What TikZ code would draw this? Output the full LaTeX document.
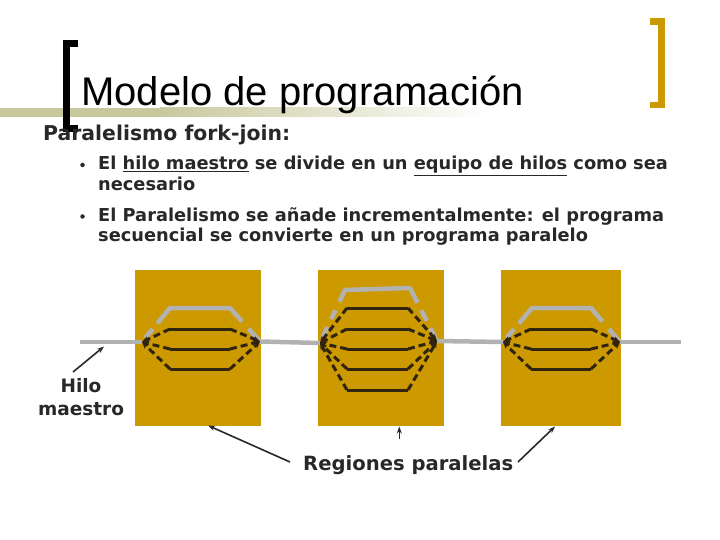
\documentclass[tikz,border=0pt]{standalone}
\usepackage{fontspec}
\setmainfont{DejaVu Sans}
\newfontfamily\titlefont{Liberation Sans}
\usetikzlibrary{calc,arrows.meta}
\definecolor{gold}{RGB}{204,153,0}
\definecolor{gthrc}{RGB}{178,178,178}
\definecolor{dk}{RGB}{40,40,40}
\definecolor{brn}{RGB}{48,36,14}
\definecolor{bandc}{RGB}{200,200,158}
\newcommand\gseg[4]{\draw[gthr] ($(#1)!#3!(#2)$) -- ($(#1)!#4!(#2)$);}
\tikzset{
  gthr/.style={draw=gthrc, line width=4.5pt},
  solthr/.style={draw=brn, line width=3pt},
  dashthr/.style={draw=brn, line width=3pt, dash pattern=on 7pt off 4pt, -{Stealth[length=7pt,width=6pt]}},
  regbox/.style={fill=gold, draw=none, anchor=north west, inner sep=0pt, minimum width=#1, minimum height=156pt},
  lbl/.style={draw=dk, line width=1.6pt, -{Stealth[length=7pt,width=5pt]}},
  boldtxt/.style={text=dk, inner sep=0pt, anchor=base west, font=\bfseries\fontsize{#1}{#1}\selectfont},
  dot/.style={fill=dk, draw=none, circle, inner sep=0pt, minimum size=4.5pt},
}
\begin{document}
\begin{tikzpicture}[x=1pt,y=-1pt]
\useasboundingbox (0,0) rectangle (720,540);
% title band
\fill[bandc] (0,108) rectangle (160,117);
\shade[left color=bandc, right color=white] (160,108) rectangle (490,117);
% brackets
\draw[line width=7pt, line join=miter] (78,44) -- (66.5,44) -- (66.5,129) -- (78,129);
\draw[gold, line width=6.5pt, line join=miter] (650,21.7) -- (661.7,21.7) -- (661.7,104.8) -- (650,104.8);
% title
\node[anchor=base west, inner sep=0pt, font=\titlefont\fontsize{40}{48}\selectfont] (title) at (81,106) {Modelo de programación};
% heading and bullets
\node[boldtxt=20.4] (head) at (43,141) {Paralelismo fork-join:};
\node[dot] (d1) at (82.5,165) {};
\node[dot] (d2) at (82.5,216.5) {};
\node[boldtxt=17.8] (b1a) at (98,170) {El \underline{hilo maestro} se divide en un \underline{equipo de hilos} como sea};
\node[boldtxt=17.8] (b1b) at (98,190.7) {necesario};
\node[boldtxt=17.8] (b2a) at (98,221.7) {El Paralelismo se añade incrementalmente: el programa};
\node[boldtxt=17.8] (b2b) at (98,241.7) {secuencial se convierte en un programa paralelo};
% regions
\node[regbox=126pt] (r1) at (135,270) {};
\node[regbox=126.5pt] (r2) at (317.5,270) {};
\node[regbox=120pt] (r3) at (500.5,270) {};
% fork / join points
\coordinate (hm) at (80,342);
\coordinate (hme) at (681,342);
\coordinate (F1) at (142,342); \coordinate (J1) at (260,341.5);
\coordinate (F2) at (320,343); \coordinate (J2) at (437,341);
\coordinate (F3) at (503,342); \coordinate (J3) at (620,342);
% master thread
\draw[gthr] (hm) -- (F1);
\draw[gthr] (J1) -- (F2);
\draw[gthr] (J2) -- (F3);
\draw[gthr] (J3) -- (hme);
% gray upper paths
\coordinate (A1) at (170,308); \coordinate (B1) at (230,308);
\coordinate (A2) at (345,290); \coordinate (B2) at (410,288);
\coordinate (A3) at (532,308); \coordinate (B3) at (591,308);
\gseg{F1}{A1}{0.12}{0.38}
\draw[gthr, line join=round] ($(F1)!0.55!(A1)$) -- (A1) -- (B1) -- ($(B1)!0.4!(J1)$);
\gseg{B1}{J1}{0.62}{0.97}
\gseg{F3}{A3}{0.12}{0.38}
\draw[gthr, line join=round] ($(F3)!0.55!(A3)$) -- (A3) -- (B3) -- ($(B3)!0.4!(J3)$);
\gseg{B3}{J3}{0.62}{0.97}
\gseg{F2}{A2}{0.1}{0.3}
\gseg{F2}{A2}{0.45}{0.62}
\draw[gthr, line join=round] ($(F2)!0.78!(A2)$) -- (A2) -- (B2) -- ($(B2)!0.28!(J2)$);
\gseg{B2}{J2}{0.42}{0.62}
\gseg{B2}{J2}{0.76}{0.97}
% threads
\foreach \y in {329,349,369} {
  \draw[solthr] (170,\y) -- (230,\y);
  \draw[dashthr] (170,\y) -- (F1);
  \draw[dashthr] (230,\y) -- (J1);
  \draw[solthr] (531,\y) -- (591,\y);
  \draw[dashthr] (531,\y) -- (F3);
  \draw[dashthr] (591,\y) -- (J3);
}
\foreach \y in {308,329,349,369,390} {
  \draw[solthr] (347,\y) -- (408,\y);
  \draw[dashthr] (347,\y) -- (F2);
  \draw[dashthr] (408,\y) -- (J2);
}
% labels
\node[text=dk, inner sep=0pt, font=\bfseries\fontsize{18.5}{18.5}\selectfont] (hilo) at (81,392) [anchor=base] {Hilo};
\node[text=dk, inner sep=0pt, font=\bfseries\fontsize{18.5}{18.5}\selectfont] (maestro) at (81,415) [anchor=base] {maestro};
\node[boldtxt=19.6] (reg) at (303,470) {Regiones paralelas};
\coordinate (hs) at (73,372); \coordinate (ht) at (104,346.5);
\draw[lbl] (hs) -- (ht);
\coordinate (rs1) at (290,462); \coordinate (rt1) at (208,425.5);
\coordinate (rs2) at (399.3,438.5); \coordinate (rt2) at (399.3,426.5);
\coordinate (rs3) at (518,462); \coordinate (rt3) at (555,426.5);
\draw[lbl] (rs1) -- (rt1);
\draw[lbl] (rs2) -- (rt2);
\draw[lbl] (rs3) -- (rt3);
\end{tikzpicture}
\end{document}
